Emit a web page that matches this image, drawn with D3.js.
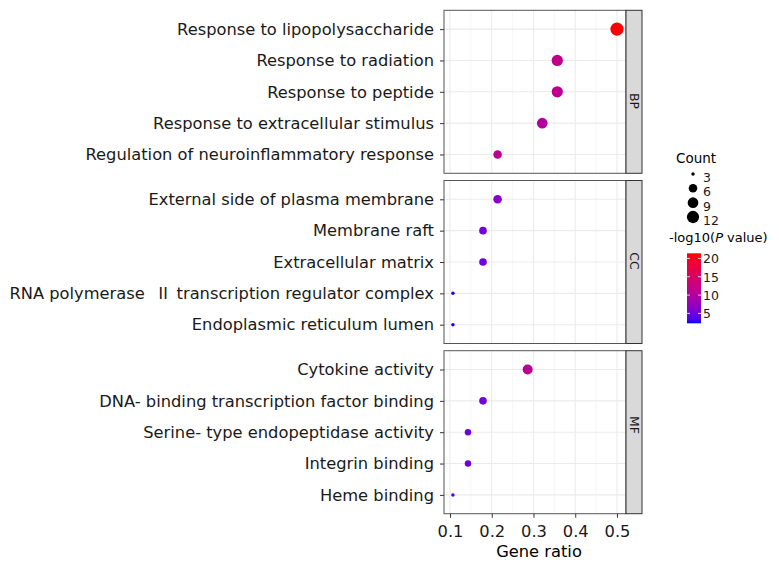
<!DOCTYPE html>
<html>
<head>
<meta charset="utf-8">
<script src="https://cdn.jsdelivr.net/npm/d3@7"></script>
<style>
  body { margin: 0; background: #fff; }
  svg { font-family: "DejaVu Sans", Verdana, sans-serif; }
</style>
</head>
<body>
<script>
// GO enrichment, total genes = 28
const facets = ['BP', 'CC', 'MF'];
const bpTerms = ['Response to lipopolysaccharide', 'Response to radiation', 'Response to peptide',
    'Response to extracellular stimulus', 'Regulation of neuroinflammatory response'];
const ccTerms = ['External side of plasma membrane', 'Membrane raft', 'Extracellular matrix',
    'RNA polymerase \u2161 transcription regulator complex', 'Endoplasmic reticulum lumen'];
const mfTerms = ['Cytokine activity', 'DNA- binding transcription factor binding',
    'Serine- type endopeptidase activity', 'Integrin binding', 'Heme binding'];
const bpCount = [14, 10, 10, 9, 6];
const ccCount = [6, 5, 5, 3, 3];
const mfCount = [8, 5, 4, 4, 3];
const bpRatio = [0.500, 0.357, 0.357, 0.321, 0.214];
const ccRatio = [0.214, 0.179, 0.179, 0.107, 0.107];
const mfRatio = [0.286, 0.179, 0.143, 0.143, 0.107];
const bpLogP = [21.3, 11.5, 11.3, 10.0, 11.0];
const ccLogP = [6.5, 5.0, 5.0, 2.4, 2.4];
const mfLogP = [11.0, 5.2, 5.0, 5.0, 3.5];
const xTicks = [0.1, 0.2, 0.3, 0.4, 0.5];
const countBreaks = [3, 6, 9, 12];
const colorBreaks = [5, 10, 15, 20];

const groups = [
    {name: facets[0], terms: bpTerms, count: bpCount, ratio: bpRatio, logp: bpLogP, labelY: 101},
    {name: facets[1], terms: ccTerms, count: ccCount, ratio: ccRatio, logp: ccLogP, labelY: 261},
    {name: facets[2], terms: mfTerms, count: mfCount, ratio: mfRatio, logp: mfLogP, labelY: 425}
];

const W = 779, H = 563;
const panelLeft = 444, panelRight = 626, stripW = 16;
const panelTop = 10.3, panelH = 163, gap = 7.2;
const labelFont = '16.3px';

const svg = d3.select('body').append('svg')
    .attr('width', W).attr('height', H);
svg.append('rect').attr('width', W).attr('height', H).attr('fill', '#fff');

const x = d3.scaleLinear().domain([0.0856, 0.5216]).range([panelLeft, panelRight]);
function radius(c) {
    // ggplot area palette: min size at lowest count
    return 1.75 + Math.sqrt((c - 3) / 11) * 4.85;
}
const cmin = 2.3, cmax = 21.4;
const color = d3.scaleLinear().domain([cmin, cmax]).range(['blue', 'red'])
    .interpolate(d3.interpolateLab);

const minorTicks = [0.15, 0.25, 0.35, 0.45];

groups.forEach((g, i) => {
    const top = panelTop + i * (panelH + gap);
    const bottom = top + panelH;
    const y = d3.scalePoint().domain(g.terms).range([top, bottom]).padding(0.6);

    const panel = svg.append('g');
    panel.append('rect')
        .attr('x', panelLeft).attr('y', top)
        .attr('width', panelRight - panelLeft).attr('height', panelH)
        .attr('fill', '#fff');

    panel.selectAll('.minor').data(minorTicks)
        .enter().append('line')
        .attr('x1', d => x(d)).attr('x2', d => x(d))
        .attr('y1', top).attr('y2', bottom)
        .attr('stroke', '#f0f0f0').attr('stroke-width', 0.6);
    panel.selectAll('.vmajor').data(xTicks)
        .enter().append('line')
        .attr('x1', d => x(d)).attr('x2', d => x(d))
        .attr('y1', top).attr('y2', bottom)
        .attr('stroke', '#ebebeb').attr('stroke-width', 1.1);
    panel.selectAll('.hmajor').data(g.terms)
        .enter().append('line')
        .attr('x1', panelLeft).attr('x2', panelRight)
        .attr('y1', d => y(d)).attr('y2', d => y(d))
        .attr('stroke', '#ebebeb').attr('stroke-width', 1.1);

    const pts = g.terms.map((t, k) => ({term: t, count: g.count[k], ratio: g.ratio[k], logp: g.logp[k]}));
    panel.selectAll('circle').data(pts)
        .enter().append('circle')
        .attr('cx', d => x(d.ratio))
        .attr('cy', d => y(d.term))
        .attr('r', d => radius(d.count))
        .attr('fill', d => color(d.logp));

    panel.append('rect')
        .attr('x', panelLeft).attr('y', top)
        .attr('width', panelRight - panelLeft).attr('height', panelH)
        .attr('fill', 'none').attr('stroke', '#555').attr('stroke-width', 1);

    // strip
    panel.append('rect')
        .attr('x', panelRight).attr('y', top)
        .attr('width', stripW).attr('height', panelH)
        .attr('fill', '#d9d9d9').attr('stroke', '#333').attr('stroke-width', 1);
    panel.append('text')
        .attr('transform', `translate(${panelRight + stripW / 2},${g.labelY}) rotate(90)`)
        .attr('text-anchor', 'middle').attr('dy', '0.35em')
        .style('font-size', '12.5px').attr('fill', '#1a1a1a')
        .text(g.name);

    // y axis
    const ya = svg.append('g').attr('transform', `translate(${panelLeft},0)`)
        .call(d3.axisLeft(y).tickSize(4).tickPadding(6));
    ya.select('.domain').remove();
    ya.selectAll('line').attr('stroke', '#333');
    ya.selectAll('text').style('font-size', labelFont).attr('fill', '#1a1a1a')
        .style('font-family', '"DejaVu Sans", Verdana, sans-serif')
        .each(function(d) {
            if (d.includes('\u2161')) {
                const parts = d.split('\u2161');
                const t = d3.select(this).text(null).attr('xml:space', 'preserve');
                t.append('tspan').text(parts[0] + ' ');
                t.append('tspan').style('font-family', '"Noto Sans CJK SC"').text('\u2161');
                t.append('tspan').text(' ' + parts[1].trim());
            }
        });
});

const lastBottom = panelTop + 2 * (panelH + gap) + panelH;
const xa = svg.append('g').attr('transform', `translate(0,${lastBottom})`)
    .call(d3.axisBottom(x).tickValues(xTicks).tickSize(4).tickPadding(8).tickFormat(d3.format('.1f')));
xa.select('.domain').remove();
xa.selectAll('line').attr('stroke', '#333');
xa.selectAll('text').style('font-size', labelFont).attr('fill', '#1a1a1a')
    .style('font-family', '"DejaVu Sans", Verdana, sans-serif');

svg.append('text')
    .attr('x', (panelLeft + panelRight) / 2 + 4).attr('y', 557)
    .attr('text-anchor', 'middle').style('font-size', labelFont).attr('fill', '#000')
    .text('Gene ratio');

// size legend
svg.append('text').attr('x', 676).attr('y', 163)
    .style('font-size', '13.5px').attr('fill', '#000').text('Count');
const keyY = d3.scalePoint().domain(countBreaks).range([174, 217]);
svg.selectAll('.key').data(countBreaks).enter().append('circle')
    .attr('cx', 693).attr('cy', d => keyY(d)).attr('r', d => radius(d)).attr('fill', '#000');
svg.selectAll('.keylab').data(countBreaks).enter().append('text')
    .attr('x', 703).attr('y', d => keyY(d) + 8)
    .style('font-size', '12.5px').attr('fill', '#1a1a1a').text(d => d);

// colour legend
const ttl = svg.append('text').attr('x', 669).attr('y', 242)
    .style('font-size', '13px').attr('fill', '#000');
ttl.append('tspan').text('-log10(');
ttl.append('tspan').style('font-style', 'italic').text('P');
ttl.append('tspan').text(' value)');

const barX = 687, barW = 14, barTop = 253.3, barBot = 323.3;
const cy = d3.scaleLinear().domain([cmin, cmax]).range([barBot, barTop]);
const defs = svg.append('defs');
const grad = defs.append('linearGradient').attr('id', 'cbar')
    .attr('x1', 0).attr('y1', 1).attr('x2', 0).attr('y2', 0);
d3.range(0, 1.0001, 0.05).forEach(t => {
    grad.append('stop').attr('offset', t)
        .attr('stop-color', color(cmin + t * (cmax - cmin)));
});
svg.append('rect').attr('x', barX).attr('y', barTop)
    .attr('width', barW).attr('height', barBot - barTop).attr('fill', 'url(#cbar)');
colorBreaks.forEach(v => {
    svg.append('line').attr('x1', barX).attr('x2', barX + 3)
        .attr('y1', cy(v)).attr('y2', cy(v)).attr('stroke', '#fff').attr('stroke-width', 0.8);
    svg.append('line').attr('x1', barX + barW - 3).attr('x2', barX + barW)
        .attr('y1', cy(v)).attr('y2', cy(v)).attr('stroke', '#fff').attr('stroke-width', 0.8);
});
svg.selectAll('.clab').data(colorBreaks).enter().append('text')
    .attr('x', 703).attr('y', d => cy(d)).attr('dy', '0.38em')
    .style('font-size', '12.5px').attr('fill', '#1a1a1a').text(d => d);
</script>
</body>
</html>
